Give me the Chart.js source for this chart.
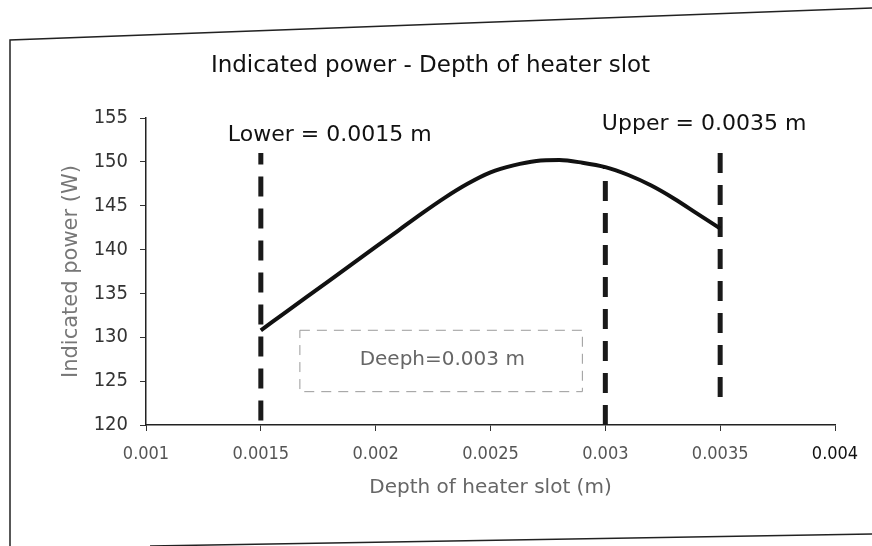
<!DOCTYPE html>
<html><head><meta charset="utf-8">
<script src="https://cdn.jsdelivr.net/npm/chart.js@4/dist/chart.umd.min.js"></script>
<style>html,body{margin:0;padding:0;background:#fff}#wrap{width:872px;height:546px}</style>
</head><body><div id="wrap"><canvas id="c" width="872" height="546"></canvas></div>
<script>
const depth = [0.0015,0.0016,0.0017,0.0018,0.0019,0.0020,0.0021,0.0022,0.0023,0.0024,0.0025,0.0026,0.0027,0.0028,0.0029,0.0030,0.0031,0.0032,0.0033,0.0034,0.0035];
const power = [130.8,132.7,134.6,136.5,138.4,140.3,142.2,144.1,145.9,147.5,148.8,149.6,150.1,150.2,149.9,149.4,148.5,147.3,145.8,144.1,142.4];
const xTicks = [0.001,0.0015,0.002,0.0025,0.003,0.0035,0.004];
const yTicks = [120,125,130,135,140,145,150,155];
const limitX = [0.0015,0.003,0.0035];
const limitBottom = [120.5,120,123.2];
const limitTop = [151,149.4,151.6];
const noteText = ["Lower = 0.0015 m","Upper = 0.0035 m","Deeph=0.003 m"];
const noteX = [0.0018,0.00343,0.00229];
const noteY = [153.0,154.3,127.4];
const boxX = [0.00167,0.0029];
const boxY = [123.8,130.8];

const mainData = depth.map((d,i)=>({x:d,y:power[i]}));
const limitSets = limitX.map((x,i)=>({
  data:[{x:x,y:limitBottom[i]},{x:x,y:limitTop[i]}],
  borderColor:'#1a1a1a', borderWidth:5, borderDash:[20,12], pointRadius:0, fill:false, tension:0
}));

const FONT = '"DejaVu Sans", sans-serif';
const COND = '"DejaVu Sans Condensed", "DejaVu Sans", sans-serif';

const notes = {
  id:'notes',
  beforeDraw(chart){
    const ctx = chart.ctx;
    ctx.save();
    ctx.fillStyle='#fff'; ctx.fillRect(0,0,chart.width,chart.height);
    ctx.strokeStyle='#222'; ctx.lineWidth=1.5;
    ctx.beginPath();
    ctx.moveTo(10,546); ctx.lineTo(10,40); ctx.lineTo(872,8);
    ctx.stroke();
    ctx.beginPath();
    ctx.moveTo(150,546); ctx.lineTo(872,534);
    ctx.stroke();
    ctx.restore();
  },
  afterDatasetsDraw(chart){
    const ctx = chart.ctx, xs = chart.scales.x, ys = chart.scales.y;
    ctx.save();
    ctx.strokeStyle='#9a9a9a'; ctx.lineWidth=1; ctx.setLineDash([10,7]);
    const x0 = xs.getPixelForValue(boxX[0]), x1 = xs.getPixelForValue(boxX[1]);
    const y0 = ys.getPixelForValue(boxY[1]), y1 = ys.getPixelForValue(boxY[0]);
    ctx.strokeRect(x0,y0,x1-x0,y1-y0);
    ctx.setLineDash([]);
    ctx.textAlign='center'; ctx.textBaseline='middle';
    ctx.fillStyle='#111';
    ctx.font='22px '+FONT;
    ctx.fillText(noteText[0], xs.getPixelForValue(noteX[0]), ys.getPixelForValue(noteY[0]));
    ctx.fillText(noteText[1], xs.getPixelForValue(noteX[1]), ys.getPixelForValue(noteY[1]));
    ctx.fillStyle='#666';
    ctx.font='20px '+FONT;
    ctx.fillText(noteText[2], xs.getPixelForValue(noteX[2]), ys.getPixelForValue(noteY[2]));
    ctx.restore();
  }
};

new Chart(document.getElementById('c'), {
  type:'line',
  data:{ datasets:[
    {data:mainData, borderColor:'#111', borderWidth:4, pointRadius:0, fill:false, cubicInterpolationMode:'monotone'},
    ...limitSets
  ]},
  options:{
    responsive:false, animation:false,
    layout:{padding:{left:26,right:37,top:0,bottom:0}},
    plugins:{
      legend:{display:false}, tooltip:{enabled:false},
      title:{display:true, text:'Indicated power - Depth of heater slot', color:'#111',
        font:{family:FONT, size:23, weight:'normal'}, padding:{top:52,bottom:38.4}}
    },
    scales:{
      x:{type:'linear', min:0.001, max:0.004,
        afterBuildTicks:s=>{s.ticks = xTicks.map(v=>({value:v}));},
        afterFit:s=>{s.height=121;},
        ticks:{callback:(v)=>String(v), color:(c)=>(c.index===xTicks.length-1?'#111':'#555'), font:{family:COND,size:18}, padding:13, maxRotation:0, autoSkip:false},
        grid:{display:true, drawOnChartArea:false, tickLength:6, color:'#333'},
        border:{display:true, color:'#222', width:1.5},
        title:{display:true, text:'Depth of heater slot (m)', color:'#666', font:{family:FONT,size:20}, padding:{bottom:46}}
      },
      y:{min:120, max:155,
        afterBuildTicks:s=>{s.ticks = yTicks.map(v=>({value:v}));},
        afterFit:s=>{s.width=120;},
        ticks:{color:'#333', font:{family:COND,size:20}, padding:12},
        grid:{display:true, drawOnChartArea:false, tickLength:6, color:'#333'},
        border:{display:true, color:'#222', width:1.5},
        title:{display:true, text:'Indicated power (W)', color:'#777', font:{family:FONT,size:21}, padding:{top:33}}
      }
    }
  },
  plugins:[notes]
});
</script></body></html>
